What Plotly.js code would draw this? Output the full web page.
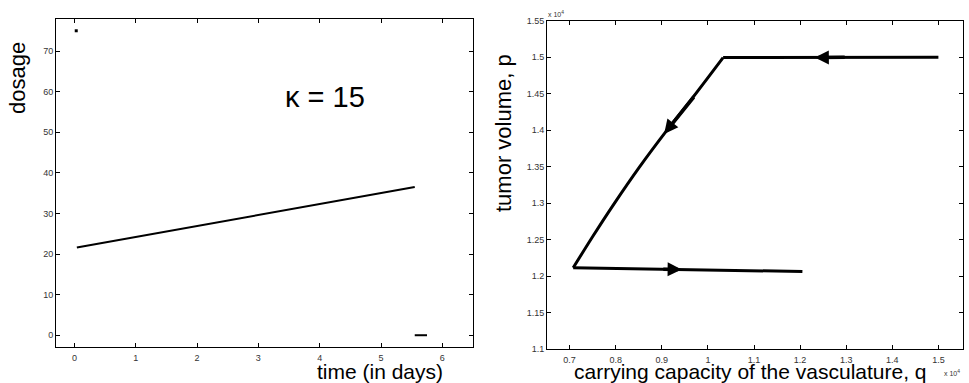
<!DOCTYPE html>
<html>
<head>
<meta charset="utf-8">
<script src="https://cdn.plot.ly/plotly-3.0.1.min.js"></script>
<style>html,body{margin:0;padding:0;background:#fff}#chart{width:969px;height:383px}</style>
</head>
<body>
<div id="chart"></div>
<script>
// ---- Left panel: dosage vs time ----
var doseTime = [0.04, 1, 2, 3, 4, 5, 5.55];
var doseValue = [21.6, 24.2, 26.9, 29.7, 32.4, 35.0, 36.5];
var doseInitTime = [0.03];
var doseInitValue = [75];
var doseEndTime = [5.55, 5.75];
var doseEndValue = [0, 0];
var leftXTicks = [0, 1, 2, 3, 4, 5, 6];
var leftYTicks = [0, 10, 20, 30, 40, 50, 60, 70];

// ---- Right panel: phase plane (units of 10^4) ----
var topQ = [1.5, 1.3, 1.1, 1.033];
var topP = [1.5, 1.4999, 1.4997, 1.4995];
var curveQ = [1.033, 0.968, 0.9105, 0.8526, 0.7946, 0.7512, 0.7078];
var curveP = [1.4995, 1.4455, 1.3995, 1.3505, 1.2975, 1.2555, 1.2117];
var bottomQ = [0.7078, 0.853, 1.0, 1.205];
var bottomP = [1.2117, 1.2100, 1.2085, 1.2065];
var arrowTipQ = [1.232, 0.905, 0.943];
var arrowTipP = [1.4997, 1.395, 1.2093];
var arrowTailQ = [1.30, 0.972, 0.90];
var arrowTailP = [1.4998, 1.4475, 1.2096];
var rightXTicks = [0.7, 0.8, 0.9, 1.0, 1.1, 1.2, 1.3, 1.4, 1.5];
var rightXLabels = ['0.7', '0.8', '0.9', '1', '1.1', '1.2', '1.3', '1.4', '1.5'];
var rightYTicks = [1.1, 1.15, 1.2, 1.25, 1.3, 1.35, 1.4, 1.45, 1.5, 1.55];
var rightYLabels = ['1.1', '1.15', '1.2', '1.25', '1.3', '1.35', '1.4', '1.45', '1.5', '1.55'];

var FONT = 'Liberation Sans, Arial, Helvetica, sans-serif';

var traces = [
  {x: doseTime, y: doseValue, xaxis: 'x', yaxis: 'y', mode: 'lines',
   line: {color: '#000', width: 2}, hoverinfo: 'skip'},
  {x: doseInitTime, y: doseInitValue, xaxis: 'x', yaxis: 'y', mode: 'markers',
   marker: {color: '#000', size: 3, symbol: 'square'}, hoverinfo: 'skip'},
  {x: doseEndTime, y: doseEndValue, xaxis: 'x', yaxis: 'y', mode: 'lines',
   line: {color: '#000', width: 2}, hoverinfo: 'skip'},
  {x: topQ, y: topP, xaxis: 'x2', yaxis: 'y2', mode: 'lines',
   line: {color: '#000', width: 3}, hoverinfo: 'skip'},
  {x: curveQ, y: curveP, xaxis: 'x2', yaxis: 'y2', mode: 'lines',
   line: {color: '#000', width: 3, shape: 'spline', smoothing: 0.8}, hoverinfo: 'skip'},
  {x: bottomQ, y: bottomP, xaxis: 'x2', yaxis: 'y2', mode: 'lines',
   line: {color: '#000', width: 3}, hoverinfo: 'skip'}
];

function axisBase() {
  return {
    showgrid: false, zeroline: false, showline: true, linecolor: '#000', linewidth: 1,
    mirror: 'allticks', ticks: 'inside', ticklen: 4, tickwidth: 1, tickcolor: '#000',
    tickfont: {family: FONT, size: 9, color: '#333'}
  };
}

var xa = Object.assign(axisBase(), {domain: [56/969, 473/969], range: [-0.3, 6.5],
  tickvals: leftXTicks, anchor: 'y', ticklabelstandoff: 2});
var ya = Object.assign(axisBase(), {domain: [1 - 347/383, 1 - 19/383], range: [-2.9, 77.9],
  tickvals: leftYTicks, anchor: 'x', ticklabelstandoff: 0});
var xa2 = Object.assign(axisBase(), {domain: [547/969, 963.3/969], range: [0.651, 1.554],
  tickvals: rightXTicks, ticktext: rightXLabels, anchor: 'y2', ticklabelstandoff: 2});
var ya2 = Object.assign(axisBase(), {domain: [1 - 349.3/383, 1 - 20.7/383], range: [1.1, 1.55],
  tickvals: rightYTicks, ticktext: rightYLabels, anchor: 'x2', ticklabelstandoff: 0});

var annotations = [
  {text: 'dosage', xref: 'paper', yref: 'paper', x: 17/969, y: 1 - 78/383, textangle: -90,
   showarrow: false, xanchor: 'center', yanchor: 'middle', font: {family: FONT, size: 22, color: '#000'}},
  {text: 'time (in days)', xref: 'paper', yref: 'paper', x: 380/969, y: 1 - 371.5/383,
   showarrow: false, xanchor: 'center', yanchor: 'middle', borderpad: 0, font: {family: FONT, size: 21, color: '#000'}},
  {text: '\u03ba = 15', xref: 'paper', yref: 'paper', x: 325/969, y: 1 - 97/383,
   showarrow: false, xanchor: 'center', yanchor: 'middle', font: {family: FONT, size: 29, color: '#000'}},
  {text: 'tumor volume, p', xref: 'paper', yref: 'paper', x: 503/969, y: 1 - 133/383, textangle: -90,
   showarrow: false, xanchor: 'center', yanchor: 'middle', font: {family: FONT, size: 22, color: '#000'}},
  {text: 'carrying capacity of the vasculature, q', xref: 'paper', yref: 'paper', x: 750/969, y: 1 - 371.5/383,
   showarrow: false, xanchor: 'center', yanchor: 'middle', borderpad: 0, font: {family: FONT, size: 21, color: '#000'}},
  {text: 'x 10<sup>4</sup>', xref: 'paper', yref: 'paper', x: 546/969, y: 1 - 14/383,
   showarrow: false, xanchor: 'left', yanchor: 'middle', font: {family: FONT, size: 7, color: '#333'}},
  {text: 'x 10<sup>4</sup>', xref: 'paper', yref: 'paper', x: 942/969, y: 1 - 373/383,
   showarrow: false, xanchor: 'left', yanchor: 'middle', font: {family: FONT, size: 7, color: '#333'}}
];
for (var i = 0; i < arrowTipQ.length; i++) {
  annotations.push({
    xref: 'x2', yref: 'y2', axref: 'x2', ayref: 'y2',
    x: arrowTipQ[i], y: arrowTipP[i], ax: arrowTailQ[i], ay: arrowTailP[i],
    text: '', showarrow: true, arrowhead: 2, arrowsize: 0.8, arrowwidth: 3.5,
    arrowcolor: '#000', standoff: 0, startstandoff: 0
  });
}

var layout = {
  width: 969, height: 383, margin: {l: 0, r: 0, t: 0, b: 0},
  paper_bgcolor: '#fff', plot_bgcolor: '#fff', showlegend: false,
  xaxis: xa, yaxis: ya, xaxis2: xa2, yaxis2: ya2,
  annotations: annotations
};

Plotly.newPlot('chart', traces, layout, {staticPlot: true, displayModeBar: false});
</script>
</body>
</html>
